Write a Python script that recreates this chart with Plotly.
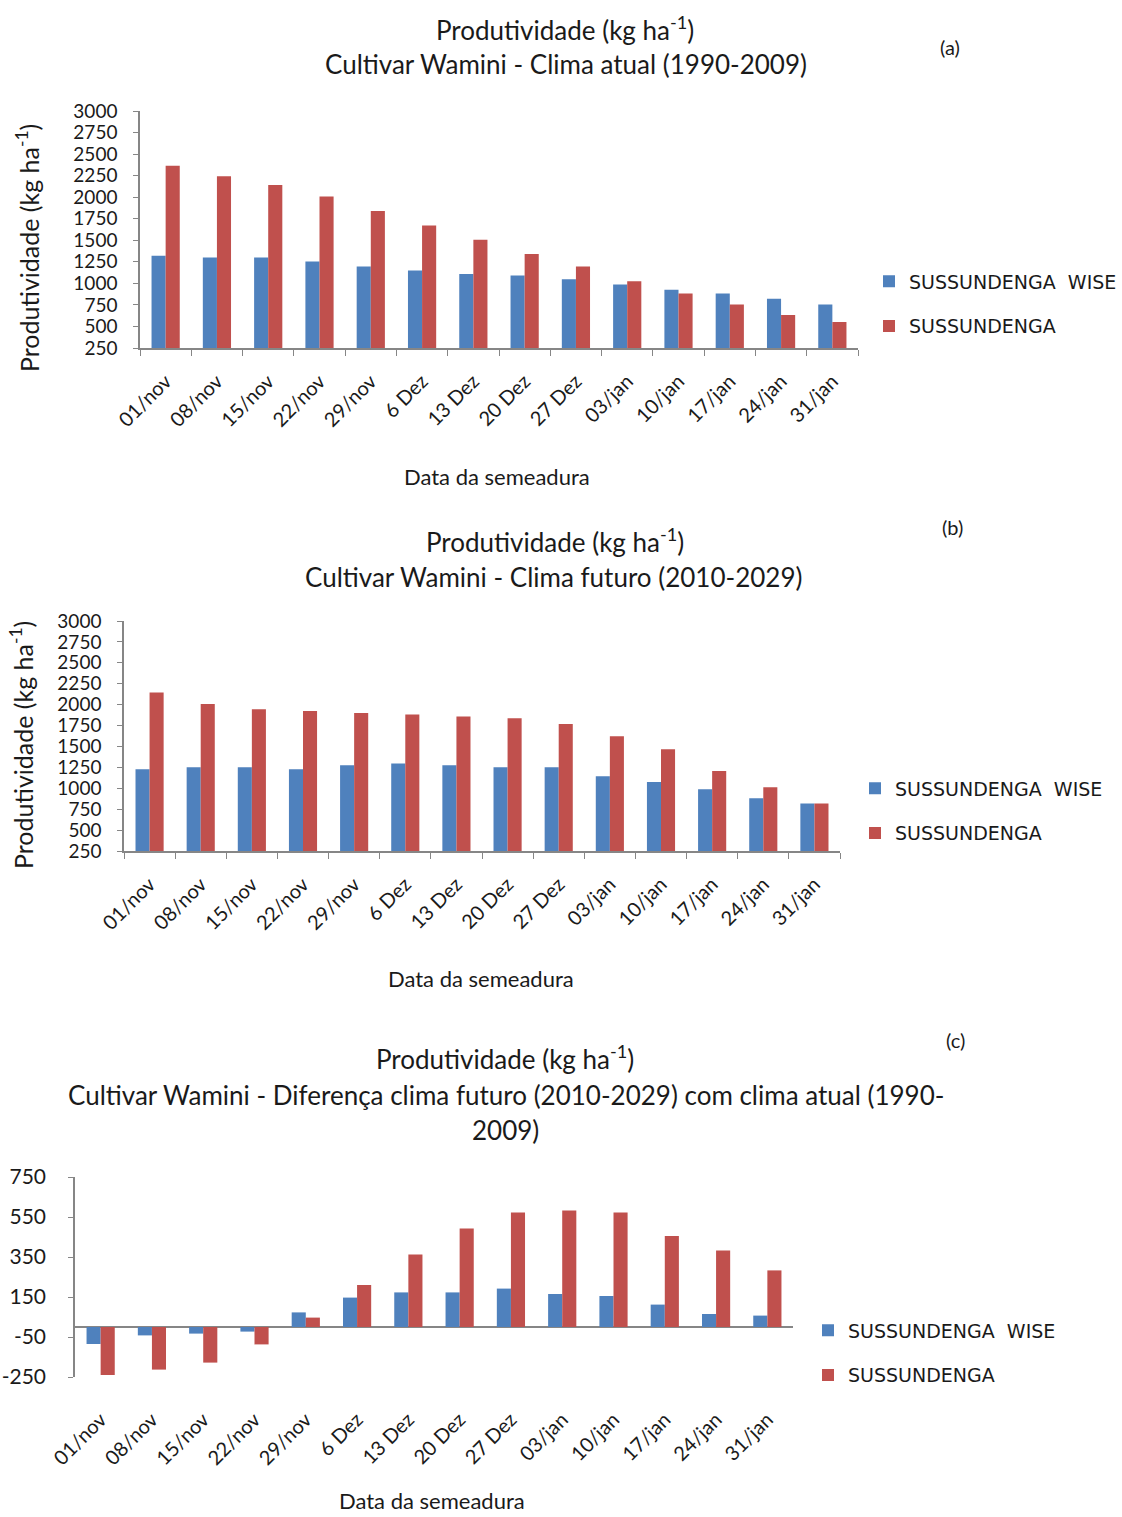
import plotly.graph_objects as go

# Sowing dates (categories)
datas = ["01/nov", "08/nov", "15/nov", "22/nov", "29/nov", "6 Dez", "13 Dez",
         "20 Dez", "27 Dez", "03/jan", "10/jan", "17/jan", "24/jan", "31/jan"]

# (a) current climate 1990-2009
wise_atual = [1320, 1300, 1300, 1255, 1195, 1150, 1110, 1090, 1047, 986, 925, 882, 821, 756]
sus_atual = [2365, 2242, 2140, 2008, 1840, 1672, 1507, 1342, 1197, 1024, 882, 756, 633, 552]

# (b) future climate 2010-2029
wise_futuro = [1227, 1251, 1251, 1227, 1275, 1295, 1275, 1251, 1251, 1143, 1075, 988, 880, 817]
sus_futuro = [2144, 2008, 1945, 1924, 1900, 1881, 1857, 1837, 1769, 1622, 1466, 1207, 1012, 817]

# (c) difference future - current
wise_dif = [-85, -42, -33, -23, 73, 147, 173, 173, 192, 165, 155, 112, 65, 57]
sus_dif = [-240, -213, -178, -87, 47, 210, 363, 492, 573, 582, 573, 455, 383, 283]

ticks_prod = list(range(250, 3001, 250))
ticks_dif = [-250, -50, 150, 350, 550, 750]

nome_wise = "SUSSUNDENGA\u00a0 WISE"
nome_sus = "SUSSUNDENGA"

AZUL = "#4F81BD"
VERMELHO = "#C0504D"
CINZA = "#868686"
TEXTO = "#1a1a1a"
FONTE = "Lato, Carlito, sans-serif"
LEG_FONTE = "DejaVu Sans, sans-serif"

W, H = 1122, 1517


def px_x(x):
    return x / W


def px_y(y):
    return 1 - y / H


fig = go.Figure()

paineis = [
    ("", "x", "y", "legend", wise_atual, sus_atual),
    ("2", "x2", "y2", "legend2", wise_futuro, sus_futuro),
    ("3", "x3", "y3", "legend3", wise_dif, sus_dif),
]

for suf, xa, ya, leg, azul, verm in paineis:
    fig.add_trace(go.Bar(x=datas, y=azul, name=nome_wise, marker_color=AZUL,
                         marker_line_width=0,
                         xaxis=xa, yaxis=ya, legend=leg, legendgroup="w" + suf))
    fig.add_trace(go.Bar(x=datas, y=verm, name=nome_sus, marker_color=VERMELHO,
                         marker_line_width=0,
                         xaxis=xa, yaxis=ya, legend=leg, legendgroup="s" + suf))

eixo_x = dict(type="category", showline=True, linecolor=CINZA, linewidth=1.5,
              tickangle=-45, tickfont=dict(family=FONTE, size=20, color=TEXTO),
              ticks="outside", tickson="boundaries", ticklen=6, tickcolor=CINZA,
              ticklabelstandoff=12, automargin=False,
              showgrid=False, zeroline=False, fixedrange=True)
eixo_y = dict(showline=True, linecolor=CINZA, linewidth=1.5, ticks="outside",
              ticklen=5, tickcolor=CINZA, showgrid=False, ticklabelstandoff=12,
              automargin=False,
              tickfont=dict(family=FONTE, size=19, color=TEXTO), fixedrange=True)

fig.update_layout(
    template="none",
    width=W, height=H, margin=dict(l=0, r=0, t=0, b=0, autoexpand=False),
    paper_bgcolor="white", plot_bgcolor="white",
    barmode="group", bargap=0.45, bargroupgap=0,
    xaxis=dict(eixo_x, domain=[px_x(140), px_x(858)], anchor="y"),
    yaxis=dict(eixo_y, domain=[px_y(348), px_y(111)], range=[250, 3000],
               tickvals=ticks_prod, anchor="x", zeroline=False),
    xaxis2=dict(eixo_x, domain=[px_x(124), px_x(840)], anchor="y2"),
    yaxis2=dict(eixo_y, domain=[px_y(851), px_y(621)], range=[250, 3000],
                tickvals=ticks_prod, anchor="x2", zeroline=False),
    xaxis3=dict(eixo_x, domain=[px_x(75), px_x(793)], anchor="y3",
                showline=False, ticks="", ticklabelstandoff=26),
    yaxis3=dict(eixo_y, domain=[px_y(1377), px_y(1177)], range=[-250, 750],
                tickvals=ticks_dif, ticktext=[str(v) for v in ticks_dif],
                anchor="x3", zeroline=True, zerolinecolor=CINZA, zerolinewidth=1.5,
                ticklabelstandoff=18,
                tickfont=dict(family=FONTE, size=21, color=TEXTO)),
)

legenda = dict(font=dict(family=LEG_FONTE, size=19, color=TEXTO),
               bgcolor="rgba(0,0,0,0)", borderwidth=0, traceorder="grouped",
               tracegroupgap=17, itemwidth=30, xanchor="left", yanchor="middle")
fig.update_layout(
    legend=dict(legenda, x=px_x(869), y=px_y(304)),
    legend2=dict(legenda, x=px_x(855), y=px_y(811)),
    legend3=dict(legenda, x=px_x(808), y=px_y(1353)),
)

tit = dict(family=FONTE, color=TEXTO)
anot = [
    # panel (a)
    dict(text="Produtividade (kg ha<sup>-1</sup>)", x=px_x(565), y=px_y(29)),
    dict(text="Cultivar Wamini - Clima atual (1990-2009)", x=px_x(566), y=px_y(64)),
    dict(text="(a)", x=px_x(950), y=px_y(47), size=20),
    dict(text="Data da semeadura", x=px_x(497), y=px_y(476), size=22),
    dict(text="Produtividade (kg ha<sup>-1</sup>)", x=px_x(28), y=px_y(248), angle=-90, size=25),
    # panel (b)
    dict(text="Produtividade (kg ha<sup>-1</sup>)", x=px_x(555), y=px_y(540)),
    dict(text="Cultivar Wamini - Clima futuro (2010-2029)", x=px_x(553), y=px_y(577)),
    dict(text="(b)", x=px_x(952), y=px_y(527), size=20),
    dict(text="Data da semeadura", x=px_x(481), y=px_y(978), size=22),
    dict(text="Produtividade (kg ha<sup>-1</sup>)", x=px_x(22), y=px_y(745), angle=-90, size=25),
    # panel (c)
    dict(text="Produtividade (kg ha<sup>-1</sup>)", x=px_x(505), y=px_y(1057)),
    dict(text="Cultivar Wamini - Diferença clima futuro (2010-2029) com clima atual (1990-",
         x=px_x(506), y=px_y(1095)),
    dict(text="2009)", x=px_x(505), y=px_y(1130)),
    dict(text="(c)", x=px_x(955), y=px_y(1040), size=20),
    dict(text="Data da semeadura", x=px_x(432), y=px_y(1500), size=22),
]
for a in anot:
    fig.add_annotation(
        text=a["text"], x=a["x"], y=a["y"], xref="paper", yref="paper",
        xanchor="center", yanchor="middle", showarrow=False,
        textangle=a.get("angle", 0),
        font=dict(tit, size=a.get("size", 26)),
    )

fig.write_html("out.html",
               post_script="document.body.style.margin='0';"
                           "document.body.style.overflow='hidden';")
